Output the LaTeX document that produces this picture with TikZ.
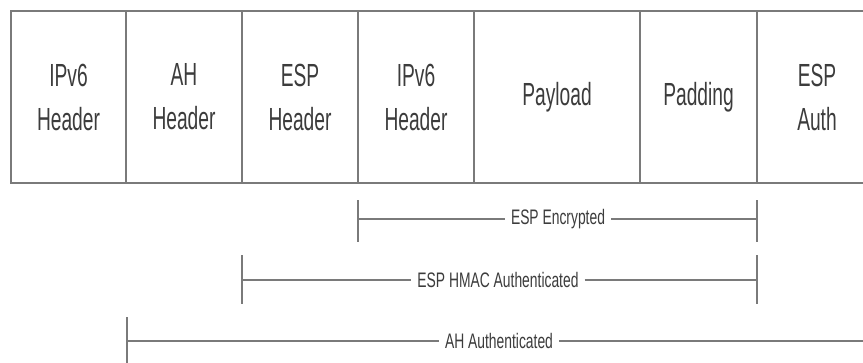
\documentclass[tikz,border=0pt]{standalone}
\usepackage{fontspec}
\setmainfont{Liberation Sans}
\newfontfamily\cellfont[FakeStretch=0.6]{Liberation Sans}
\newfontfamily\labfont[FakeStretch=0.66]{Liberation Sans}
\definecolor{txt}{HTML}{3C3C3C}
\definecolor{ln}{HTML}{7A7A7A}
\begin{document}
\begin{tikzpicture}[x=1pt,y=-1pt,
  cell/.style={inner sep=0pt,text=txt,align=center,font=\cellfont\fontsize{32}{44}\selectfont},
  lab/.style={inner sep=0pt,text=txt,font=\labfont\fontsize{21}{24}\selectfont},
  frame/.style={draw=ln,line width=2.2pt},
  divider/.style={draw=ln,line width=1.3pt},
  span/.style={draw=ln,line width=1.3pt},
  tick/.style={draw=ln,line width=1.3pt}]
\useasboundingbox[fill=white] (0,0) rectangle (863,362);
\begin{scope}
\clip (0,0) rectangle (863,362);
% frame
\draw[frame] (880,11) -- (11,11) -- (11,183) -- (880,183);
\foreach \x in {126,242,358,474,640,757}{\draw[divider] (\x,11) -- (\x,183);}
% cells
\node[cell] (c1) at (68.5,97) {IPv6\\Header};
\node[cell] (c2) at (184,97) {AH\\Header};
\node[cell] (c3) at (300,97) {ESP\\Header};
\node[cell] (c4) at (416,97) {IPv6\\Header};
\node[cell] (c5) at (557,97) {Payload};
\node[cell] (c6) at (698.5,97) {Padding};
\node[cell] (c7) at (817,97) {ESP\\Auth};
% ESP Encrypted
\coordinate (e1) at (358,219);
\coordinate (e2) at (757,219);
\node[lab] (le) at (558,219) {ESP Encrypted};
\draw[tick] (358,200) -- (358,242);
\draw[tick] (757,200) -- (757,242);
\draw[span] (e1) -- ([xshift=-6pt]le.west);
\draw[span] ([xshift=6pt]le.east) -- (e2);
% ESP HMAC Authenticated
\coordinate (h1) at (242,280);
\coordinate (h2) at (757,280);
\node[lab] (lh) at (498,280) {ESP HMAC Authenticated};
\draw[tick] (242,255) -- (242,304);
\draw[tick] (757,255) -- (757,304);
\draw[span] (h1) -- ([xshift=-6pt]lh.west);
\draw[span] ([xshift=6pt]lh.east) -- (h2);
% AH Authenticated
\coordinate (a1) at (127,341);
\coordinate (a2) at (880,341);
\node[lab] (la) at (499,341) {AH Authenticated};
\draw[tick] (127,317) -- (127,370);
\draw[span] (a1) -- ([xshift=-6pt]la.west);
\draw[span] ([xshift=6pt]la.east) -- (a2);
\end{scope}
\end{tikzpicture}
\end{document}
